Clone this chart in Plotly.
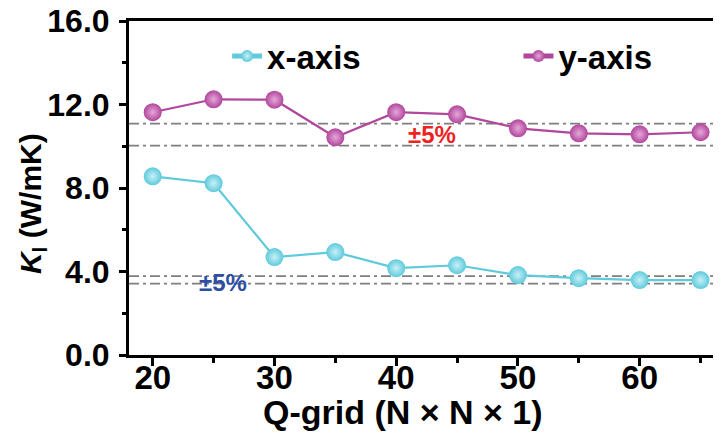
import plotly.graph_objects as go

q_grid = [20, 25, 30, 35, 40, 45, 50, 55, 60, 65]
k_x_axis = [8.56, 8.23, 4.69, 4.93, 4.16, 4.30, 3.83, 3.68, 3.59, 3.59]
k_y_axis = [11.63, 12.25, 12.23, 10.43, 11.63, 11.53, 10.86, 10.62, 10.57, 10.67]
band_y = [11.08, 10.03]
band_x = [3.78, 3.42]
y_ticks = [0, 4, 8, 12, 16]
x_ticks = [20, 30, 40, 50, 60]

CYAN = "#5ECADC"
PURPLE = "#B1469D"
FONT = "Liberation Sans, Arial, sans-serif"

fig = go.Figure()
fig.add_trace(go.Scatter(
    x=q_grid, y=k_x_axis, name="<b>x-axis</b>", mode="lines+markers",
    line=dict(color=CYAN, width=2.2), legend="legend",
    marker=dict(size=18, color=CYAN, gradient=dict(type="radial", color="#C8F0F6"),
                line=dict(width=0)),
))
fig.add_trace(go.Scatter(
    x=q_grid, y=k_y_axis, name="<b>y-axis</b>", mode="lines+markers",
    line=dict(color=PURPLE, width=2.2), legend="legend2",
    marker=dict(size=18, color=PURPLE, gradient=dict(type="radial", color="#E6A8D8"),
                line=dict(width=0)),
))

for yv in band_y + band_x:
    fig.add_shape(type="line", xref="paper", x0=0, x1=1, yref="y", y0=yv, y1=yv,
                  line=dict(color="#7F7F7F", width=1.8, dash="10px,4px,3px,4px"),
                  layer="below")

fig.add_annotation(x=42.9, y=10.54, text="<b>±5%</b>", showarrow=False,
                   font=dict(family=FONT, size=24, color="#EE2222"))
fig.add_annotation(x=25.77, y=3.45, text="<b>±5%</b>", showarrow=False,
                   font=dict(family=FONT, size=24, color="#2D4FA3"))

# axis titles
fig.add_annotation(xref="paper", yref="paper", x=0.463, y=-0.172,
                   xanchor="center", yanchor="middle", showarrow=False,
                   text="<b>Q-grid (N × N × 1)</b>",
                   font=dict(family=FONT, size=34, color="black"))
fig.add_annotation(xref="paper", yref="paper", x=-0.164, y=0.452,
                   xanchor="center", yanchor="middle", showarrow=False, textangle=-90,
                   text="<b><i>K</i><sub>l</sub> (W/mK)</b>",
                   font=dict(family=FONT, size=30, color="black"))

leg_common = dict(orientation="h", xanchor="left", yanchor="middle",
                  font=dict(family=FONT, size=33, color="black"),
                  bgcolor="rgba(0,0,0,0)", itemsizing="constant")

# page body has an 8px margin: shrink the figure so it fits the 721x439 window
fig.update_layout(
    width=713, height=431,
    margin=dict(l=121, r=1, t=13, b=84, autoexpand=False),
    paper_bgcolor="white", plot_bgcolor="white",
    font=dict(family=FONT, size=32, color="black"),
    showlegend=True,
    legend=dict(x=0.166, y=0.895, **leg_common),
    legend2=dict(x=0.659, y=0.895, **leg_common),
)
fig.update_xaxes(
    range=[18.05, 66.6], tickmode="array", tickvals=x_ticks,
    ticktext=[f"<b>{v}</b>" for v in x_ticks],
    ticks="outside", ticklen=8, tickwidth=3, tickcolor="black",
    minor=dict(tickmode="array", tickvals=[25, 35, 45, 55, 65], ticks="outside",
               ticklen=5, tickwidth=3, tickcolor="black"),
    showline=True, linewidth=3, linecolor="black", mirror=True,
    showgrid=False, zeroline=False, automargin=False,
    tickfont=dict(family=FONT, size=33), ticklabelstandoff=-17,
    ticklabeloverflow="allow",
)
fig.update_yaxes(
    range=[0, 16], tickmode="array", tickvals=y_ticks,
    ticktext=[f"<b>{v:.1f}</b>" for v in y_ticks],
    ticks="outside", ticklen=7, tickwidth=3, tickcolor="black",
    minor=dict(tickmode="array", tickvals=[2, 6, 10, 14], ticks="outside",
               ticklen=4, tickwidth=3, tickcolor="black"),
    showline=True, linewidth=3, linecolor="black", mirror=False,
    showgrid=False, zeroline=False, automargin=False,
    tickfont=dict(family=FONT, size=32), ticklabelstandoff=3,
    ticklabeloverflow="allow",
)

fig.write_html("out.html")
